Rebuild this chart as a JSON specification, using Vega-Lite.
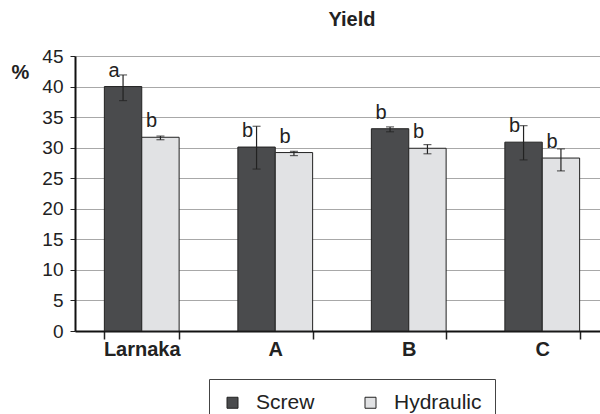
{
  "$schema": "https://vega.github.io/schema/vega-lite/v6.json",
  "width": 534,
  "height": 275,
  "autosize": {"type": "none"},
  "padding": {"left": 75, "top": 56, "right": 0, "bottom": 83},
  "background": "white",
  "config": {
    "font": "Liberation Sans",
    "view": {"stroke": null},
    "axisY": {
      "titleAngle": 0, "titleFontSize": 20, "titleFontWeight": "bold", "titleColor": "#222",
      "titleX": -64, "titleY": 16, "titleAlign": "left", "titleBaseline": "middle",
      "labelFontSize": 19, "labelColor": "#222", "labelPadding": 7, "labelOverlap": false,
      "tickSize": 5, "tickColor": "#222", "domainColor": "#111", "domainWidth": 2,
      "gridColor": "#a8a8a8", "gridWidth": 1
    }
  },
  "title": {"text": "Yield", "fontSize": 20, "fontWeight": "bold", "font": "Liberation Sans", "color": "#222", "anchor": "middle", "dx": 10, "offset": 17},
  "data": {
    "values": [
      {"site": "Larnaka", "method": "Screw", "value": 40.0, "lo": 37.7, "hi": 41.9, "letter": "a"},
      {"site": "Larnaka", "method": "Hydraulic", "value": 31.7, "lo": 31.3, "hi": 31.9, "letter": "b"},
      {"site": "A", "method": "Screw", "value": 30.1, "lo": 26.5, "hi": 33.5, "letter": "b"},
      {"site": "A", "method": "Hydraulic", "value": 29.2, "lo": 28.7, "hi": 29.4, "letter": "b"},
      {"site": "B", "method": "Screw", "value": 33.1, "lo": 32.6, "hi": 33.4, "letter": "b"},
      {"site": "B", "method": "Hydraulic", "value": 29.9, "lo": 29.0, "hi": 30.5, "letter": "b"},
      {"site": "C", "method": "Screw", "value": 30.9, "lo": 28.0, "hi": 33.6, "letter": "b"},
      {"site": "C", "method": "Hydraulic", "value": 28.3, "lo": 26.2, "hi": 29.8, "letter": "b"}
    ]
  },
  "encoding": {
    "x": {
      "field": "site", "type": "nominal", "sort": ["Larnaka", "A", "B", "C"],
      "scale": {"paddingInner": 0.44, "paddingOuter": 0.22},
      "axis": {
        "title": null, "labelAngle": 0, "labelFontSize": 20, "labelFontWeight": "bold", "labelColor": "#222",
        "tickBand": "extent", "tickSize": 8, "tickColor": "#222", "tickWidth": 1.5,
        "domainColor": "#111", "domainWidth": 2, "labelPadding": 0, "grid": false
      }
    },
    "xOffset": {"field": "method", "type": "nominal", "sort": ["Screw", "Hydraulic"]}
  },
  "layer": [
    {
      "mark": {"type": "bar", "stroke": "#222", "strokeWidth": 1},
      "encoding": {
        "y": {
          "field": "value", "type": "quantitative",
          "scale": {"domain": [0, 45], "nice": false},
          "axis": {"values": [0, 5, 10, 15, 20, 25, 30, 35, 40, 45], "title": "%"}
        },
        "fill": {
          "field": "method", "type": "nominal", "sort": ["Screw", "Hydraulic"],
          "scale": {"domain": ["Screw", "Hydraulic"], "range": ["#4a4b4d", "#e1e2e4"]},
          "legend": {
            "title": null, "orient": "none", "legendX": 134, "legendY": 323, "direction": "horizontal",
            "symbolType": "square", "symbolSize": 121, "symbolStrokeColor": "#222", "symbolStrokeWidth": 1,
            "labelFontSize": 21, "labelColor": "#222", "labelOffset": 13, "columnPadding": 45,
            "padding": 13, "strokeColor": "#444", "fillColor": "white"
          }
        }
      }
    },
    {
      "mark": {"type": "rule", "color": "#222", "strokeWidth": 1.2},
      "encoding": {
        "y": {"field": "lo", "type": "quantitative", "axis": {"values": [0, 5, 10, 15, 20, 25, 30, 35, 40, 45], "title": "%"}},
        "y2": {"field": "hi"}
      }
    },
    {
      "mark": {"type": "tick", "color": "#222", "thickness": 1.2, "size": 8},
      "encoding": {"y": {"field": "lo", "type": "quantitative", "axis": {"values": [0, 5, 10, 15, 20, 25, 30, 35, 40, 45], "title": "%"}}}
    },
    {
      "mark": {"type": "tick", "color": "#222", "thickness": 1.2, "size": 8},
      "encoding": {"y": {"field": "hi", "type": "quantitative", "axis": {"values": [0, 5, 10, 15, 20, 25, 30, 35, 40, 45], "title": "%"}}}
    },
    {
      "mark": {"type": "text", "fontSize": 20, "color": "#222", "baseline": "alphabetic", "dx": -9, "dy": -10},
      "encoding": {
        "y": {"field": "value", "type": "quantitative", "axis": {"values": [0, 5, 10, 15, 20, 25, 30, 35, 40, 45], "title": "%"}},
        "text": {"field": "letter"}
      }
    }
  ]
}
